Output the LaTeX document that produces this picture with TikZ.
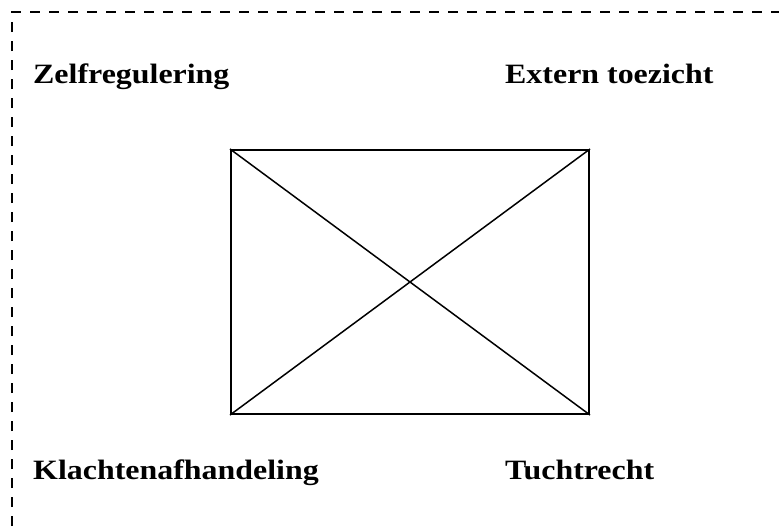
\documentclass[tikz,border=0pt]{standalone}
\usepackage{xcolor}
\usepackage{fontspec}
\usepackage{tikz}
\usetikzlibrary{positioning, shapes, calc}
\newfontfamily\labelfont{Liberation Serif Bold}[FakeStretch=1.14]

\begin{document}
\begin{tikzpicture}[x=1pt, y=-1pt,
		label text/.style={anchor=base west, inner sep=0pt, font=\labelfont\fontsize{28}{30}\selectfont},
		square box/.style={draw, line width=2pt, inner sep=0pt, minimum width=358pt, minimum height=264pt}]
			\pgfmathsetmacro{\framex}{12}
			\pgfmathsetmacro{\framey}{12}
			\useasboundingbox (0,0) rectangle (779,531);
			\clip (0,0) rectangle (779,531);
			\draw[line width=2pt, dash pattern=on 10pt off 9pt] (\framex,545) -- (\framex,\framey) -- (795,\framey) -- (795,545) -- cycle;
			\node[label text] (zelf) at (33,83) {Zelfregulering};
			\node[label text] (extern) at (505,83) {Extern toezicht};
			\node[label text] (klacht) at (33,479) {Klachtenafhandeling};
			\node[label text] (tucht) at (505,479) {Tuchtrecht};
			\node[square box] (kruis) at (410,282) {};
			\draw[line width=1.5pt] (kruis.north west) -- (kruis.south east);
			\draw[line width=1.5pt] (kruis.south west) -- (kruis.north east);
			%%\addvmargin{4};
			\end{tikzpicture}
\end{document}
